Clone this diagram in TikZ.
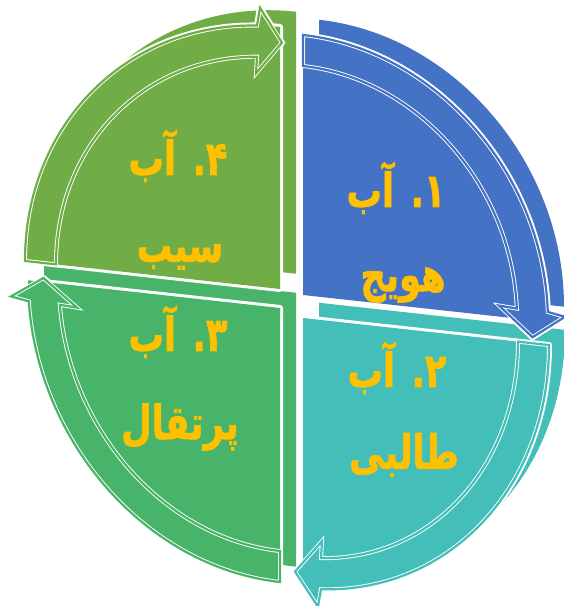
\documentclass[tikz,border=0pt]{standalone}
\usepackage{fontspec}
\newfontfamily\fa[Script=Arabic,BoldFeatures={FakeBold=1.6}]{DejaVu Sans}
\TeXXeTstate=1
\definecolor{cblue}{HTML}{4472C4}
\definecolor{cteal}{HTML}{43BEB8}
\definecolor{cgreen}{HTML}{48B46A}
\definecolor{colive}{HTML}{70AD47}
\definecolor{cgold}{HTML}{FFC000}
\newcommand{\segface}[7]{%
  \pgfmathsetmacro{\tho}{asin(#4/#3)}%
  \pgfmathsetmacro{\thi}{asin(#4/(#3-31))}%
  \coordinate (On) at ({#2*cos(\tho)},{#4});
  \coordinate (In) at ({(#2-31)*cos(\thi)},{#4});
  \coordinate (Wo) at ({#2+17},{#4-3});
  \coordinate (Wi) at ({#2-31-18},{#4+1});
  \coordinate (Tp) at ({#2-15.5},{#5});
  \path[draw=white,line width=#6,line join=round] (0,0) -- (0,#3) arc[start angle=90,end angle=0,x radius=#2,y radius=#3] -- cycle;
  \ifnum#7=1
  \path[draw=white,line width=#6,line join=round] (On) -- (Wo) -- (Tp) -- (Wi) -- (In) -- cycle;
  \fi
  \fill[#1] (0,0) -- (0,#3) arc[start angle=90,end angle=0,x radius=#2,y radius=#3] -- cycle;
  \ifnum#7=1
  \fill[#1] (On) -- (Wo) -- (Tp) -- (Wi) -- (In) -- cycle;
  \fi
}
\newcommand{\segarrow}[3]{%
  \draw[white,line width=0.9,double=#1,double distance=2.2,line join=miter]
    (0,{#3-31}) arc[start angle=90,end angle=\thi,x radius={#2-31},y radius={#3-31}]
    -- (Wi) -- (Tp) -- (Wo) -- (On)
    arc[start angle=\tho,end angle=90,x radius=#2,y radius=#3] -- cycle;
}
\newcommand{\segback}[7]{%
  \begin{scope}[shift={(#2)},yslant=-0.11]
    \begin{scope}[shift={(16,17)},rotate=#3]
      \segface{#1}{#4}{#5}{#6}{#7}{5}{0}
    \end{scope}
  \end{scope}}
\newcommand{\segfront}[7]{%
  \begin{scope}[shift={(#2)},yslant=-0.11]
    \begin{scope}[rotate=#3]
      \segface{#1}{#4}{#5}{#6}{#7}{6}{1}
      \segarrow{#1}{#4}{#5}
    \end{scope}
  \end{scope}}
\begin{document}
\begin{tikzpicture}[x=1pt,y=1pt,
  txt/.style={text=cgold,inner sep=0pt,xscale=0.84,yscale=1.12,
    font=\fa\bfseries\fontsize{42}{50}\selectfont}]
\useasboundingbox (0,0) rectangle (564,606);
% back faces (3D thickness)
\segback{cblue}{303,311}{0}{245}{260}{10}{-17}
\segback{cteal}{303,288}{-90}{270}{246}{18}{-8}
\segback{cgreen}{280,298}{180}{252}{274}{21}{-4}
\segback{colive}{280,317}{90}{262}{255}{23}{-2}
% front faces with arrows
\segfront{cgreen}{280,298}{180}{252}{274}{21}{-4}
\segfront{cteal}{303,288}{-90}{270}{246}{18}{-8}
\segfront{colive}{280,317}{90}{262}{255}{23}{-2}
\segfront{cblue}{303,311}{0}{245}{260}{10}{-17}
% labels
\node[txt] (t1a) at (396,418) {\beginR ۱. آب\endR};
\node[txt] (t1b) at (403,321) {\beginR هویج\endR};
\node[txt] (t2a) at (397,238) {\beginR ۲. آب\endR};
\node[txt] (t2b) at (404,151) {\beginR طالبی\endR};
\node[txt] (t3a) at (178,274) {\beginR ۳. آب\endR};
\node[txt] (t3b) at (180,179) {\beginR پرتقال\endR};
\node[txt] (t4a) at (178,450) {\beginR ۴. آب\endR};
\node[txt] (t4b) at (180,349) {\beginR سیب\endR};
\end{tikzpicture}
\end{document}
